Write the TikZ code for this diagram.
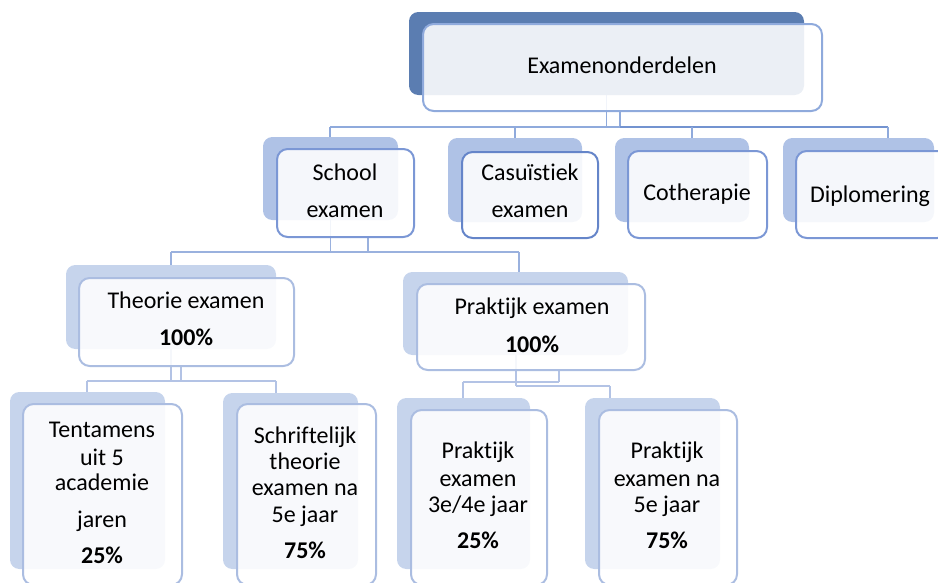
\documentclass[tikz,border=0pt]{standalone}
\usepackage{fontspec}
\setmainfont{Carlito}[Ligatures={NoCommon}]
\usetikzlibrary{fit}
\definecolor{shA}{HTML}{5B7DB1}
\definecolor{shB}{HTML}{AFC2E6}
\definecolor{shC}{HTML}{C6D4EC}
\definecolor{bdA}{HTML}{8FAADC}
\definecolor{bdB}{HTML}{7B97D5}
\definecolor{bdCas}{HTML}{6585C9}
\definecolor{bdC}{HTML}{ABBDE1}
\definecolor{lnA}{HTML}{8FAADC}
\definecolor{lnA2}{HTML}{7393D0}
\definecolor{lnB}{HTML}{9AB1DE}
\definecolor{lnC}{HTML}{B3C3E5}
\pgfdeclarelayer{bg}
\pgfsetlayers{bg,main}
\newcommand\mkbox[6]{\node[#6, fit={(#2,#3)(#4,#5)}, inner sep=0pt] (#1) {};}
\tikzset{
  shadowbox/.style={rounded corners=7pt, draw=none},
  frontbox/.style={rounded corners=8pt, fill=white, fill opacity=0.88, line width=1.5pt},
  txt/.style={font=\fontsize{18}{20}\selectfont, inner sep=0pt, text height=12pt, text depth=4pt},
  btxt/.style={txt, font=\fontsize{18}{20}\selectfont\bfseries},
  conn/.style={line width=1.3pt},
}
\begin{document}
\begin{tikzpicture}[x=0.75pt,y=-0.75pt]
\useasboundingbox (0,0) rectangle (938,582);
\clip (0,0) rectangle (938,582);
% ---------- connector anchor coordinates
\coordinate (b1L) at (330,127);
\coordinate (b1R) at (888,127);
\coordinate (k1) at (515,127);
\coordinate (k2) at (692,127);
\coordinate (k0) at (620,127);
\coordinate (b2L) at (171,252);
\coordinate (b2R) at (519,252);
\coordinate (k4) at (368,252);
\coordinate (b3L) at (87,381);
\coordinate (b3R) at (276,381);
\coordinate (k5) at (181,381);
\coordinate (b4L) at (463,382);
\coordinate (b4M) at (559,382);
\coordinate (b5L) at (516,386);
\coordinate (b5R) at (610,386);
% ---------- shadows
\mkbox{s-top}{409}{12}{804}{95}{shadowbox, fill=shA}
\mkbox{s-school}{263}{137}{398}{220}{shadowbox, fill=shB}
\mkbox{s-cas}{448}{138}{582}{222}{shadowbox, fill=shB}
\mkbox{s-coth}{615}{138}{749}{222}{shadowbox, fill=shB}
\mkbox{s-dipl}{783}{138}{934}{222}{shadowbox, fill=shB}
\mkbox{s-theo}{66}{265}{276}{349}{shadowbox, fill=shC}
\mkbox{s-prak}{403}{272}{628}{355}{shadowbox, fill=shC}
\mkbox{s-tent}{10}{392}{165}{569}{shadowbox, fill=shC}
\mkbox{s-schr}{223}{393}{358}{569}{shadowbox, fill=shC}
\mkbox{s-p34}{397}{398}{530}{569}{shadowbox, fill=shC}
\mkbox{s-p5}{585}{398}{720}{569}{shadowbox, fill=shC}
% ---------- front boxes
\mkbox{f-top}{423}{24}{822}{111}{frontbox, draw=bdA}
\mkbox{f-school}{277}{149}{414}{237}{frontbox, draw=bdB}
\mkbox{f-cas}{462}{152}{598}{238}{frontbox, draw=bdCas}
\mkbox{f-coth}{628}{151}{767}{238}{frontbox, draw=bdB}
\mkbox{f-dipl}{796}{151}{948}{238}{frontbox, draw=bdB}
\mkbox{f-theo}{79}{278}{294}{366}{frontbox, draw=bdC}
\mkbox{f-prak}{417}{284}{645}{370}{frontbox, draw=bdC}
\mkbox{f-tent}{23}{404}{182}{585}{frontbox, draw=bdC}
\mkbox{f-schr}{237}{404}{376}{585}{frontbox, draw=bdC}
\mkbox{f-p34}{411}{410}{547}{585}{frontbox, draw=bdC}
\mkbox{f-p5}{599}{410}{737}{585}{frontbox, draw=bdC}
% ---------- connectors (behind the boxes)
\begin{pgfonlayer}{bg}
\draw[conn, draw=lnA] (s-top.south) -- (s-top.south |- b1L);
\draw[conn, draw=lnA] (f-top.south -| k0) -- (k0);
\draw[conn, draw=lnA] (b1L) -- (k0);
\draw[conn, draw=lnA2] (k0) -- (b1R);
\draw[conn, draw=lnA] (b1L) -- (b1L |- s-school.north);
\draw[conn, draw=lnA] (k1) -- (k1 |- s-cas.north);
\draw[conn, draw=lnA] (k2) -- (k2 |- s-coth.north);
\draw[conn, draw=lnA] (b1R) -- (b1R |- s-dipl.north);
% school -> level 3
\draw[conn, draw=lnB] (s-school.south) -- (s-school.south |- b2L);
\draw[conn, draw=lnB] (f-school.south -| k4) -- (k4);
\draw[conn, draw=lnB] (b2L) -- (b2R);
\draw[conn, draw=lnB] (b2L) -- (b2L |- s-theo.north);
\draw[conn, draw=lnB] (b2R) -- (b2R |- s-prak.north);
% theorie -> level 4
\draw[conn, draw=lnC] (s-theo.south) -- (s-theo.south |- b3L);
\draw[conn, draw=lnC] (f-theo.south -| k5) -- (k5);
\draw[conn, draw=lnC] (b3L) -- (b3R);
\draw[conn, draw=lnC] (b3L) -- (b3L |- s-tent.north);
\draw[conn, draw=lnC] (b3R) -- (b3R |- s-schr.north);
% praktijk -> level 4
\draw[conn, draw=lnC] (s-prak.south -| b5L) -- (b5L);
\draw[conn, draw=lnC] (f-prak.south -| b4M) -- (b4M);
\draw[conn, draw=lnC] (b4L) -- (b4M);
\draw[conn, draw=lnC] (b5L) -- (b5R);
\draw[conn, draw=lnC] (b4L) -- (b4L |- s-p34.north);
\draw[conn, draw=lnC] (b5R) -- (b5R |- s-p5.north);
\end{pgfonlayer}
% ---------- texts
\node[txt] (t-top) at (622,68) {Examenonderdelen};
\node[txt] (t-school1) at (345,175) {School};
\node[txt] (t-school2) at (345,212) {examen};
\node[txt] (t-cas1) at (530,175) {Casuïstiek};
\node[txt] (t-cas2) at (530,212) {examen};
\node[txt] (t-coth) at (697,195) {Cotherapie};
\node[txt] (t-dipl) at (870,197) {Diplomering};
\node[txt] (t-theo1) at (186,303) {Theorie examen};
\node[btxt] (t-theo2) at (186,340) {100\%};
\node[txt] (t-prak1) at (532,309) {Praktijk examen};
\node[btxt] (t-prak2) at (532,347) {100\%};
\node[txt] (t-tent1) at (102,432) {Tentamens};
\node[txt] (t-tent2) at (102,460) {uit 5};
\node[txt] (t-tent3) at (102,485) {academie};
\node[txt] (t-tent4) at (102,522) {jaren};
\node[btxt] (t-tent5) at (102,558) {25\%};
\node[txt] (t-schr1) at (305,438) {Schriftelijk};
\node[txt] (t-schr2) at (305,464) {theorie};
\node[txt] (t-schr3) at (305,490) {examen na};
\node[txt] (t-schr4) at (305,517) {5e jaar};
\node[btxt] (t-schr5) at (305,553) {75\%};
\node[txt] (t-p341) at (478,453) {Praktijk};
\node[txt] (t-p342) at (478,481) {examen};
\node[txt] (t-p343) at (478,507) {3e/4e jaar};
\node[btxt] (t-p344) at (478,543) {25\%};
\node[txt] (t-p51) at (667,453) {Praktijk};
\node[txt] (t-p52) at (667,481) {examen na};
\node[txt] (t-p53) at (667,507) {5e jaar};
\node[btxt] (t-p54) at (667,543) {75\%};
\end{tikzpicture}
\end{document}
